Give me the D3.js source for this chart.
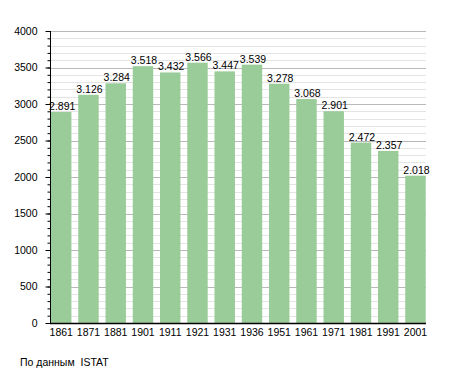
<!DOCTYPE html>
<html>
<head>
<meta charset="utf-8">
<script src="https://cdn.jsdelivr.net/npm/d3@7"></script>
<style>
  body { margin: 0; background: #fff; }
  text { font-family: "Liberation Sans", Arial, sans-serif; }
</style>
</head>
<body>
<script>
// census years and population
var years = ["1861","1871","1881","1901","1911","1921","1931","1936","1951","1961","1971","1981","1991","2001"];
var population = [2891, 3126, 3284, 3518, 3432, 3566, 3447, 3539, 3278, 3068, 2901, 2472, 2357, 2018];
var yTicks = [0, 500, 1000, 1500, 2000, 2500, 3000, 3500, 4000];
var sourceNote = "По данным  ISTAT";

var width = 455, height = 373;

var svg = d3.select("body").append("svg")
    .attr("width", width)
    .attr("height", height);

var x = d3.scaleBand()
    .domain(years)
    .range([51, 425.7])
    .paddingInner(0.25)
    .paddingOuter(0);

var y = d3.scaleLinear()
    .domain([0, 4000])
    .range([323, 31]);

var left = 50, right = 426;

// minor grid every 100
var minor = d3.range(100, 4001, 100).filter(function(v){ return v % 500 !== 0; });
svg.selectAll(".minor")
    .data(minor)
    .enter().append("line")
    .attr("x1", left).attr("x2", right)
    .attr("y1", function(d){ return Math.round(y(d)) + 0.5; })
    .attr("y2", function(d){ return Math.round(y(d)) + 0.5; })
    .attr("stroke", "#e4e4e4")
    .attr("stroke-width", 1);

// major grid
svg.selectAll(".major")
    .data(yTicks.slice(1))
    .enter().append("line")
    .attr("x1", left).attr("x2", right)
    .attr("y1", function(d){ return Math.round(y(d)) + 0.5; })
    .attr("y2", function(d){ return Math.round(y(d)) + 0.5; })
    .attr("stroke", "#b8b8b8")
    .attr("stroke-width", 1);

// bars
svg.selectAll(".bar")
    .data(population)
    .enter().append("rect")
    .attr("x", function(d, i){ return x(years[i]); })
    .attr("y", function(d){ return y(d); })
    .attr("width", x.bandwidth())
    .attr("height", function(d){ return y(0) - y(d); })
    .attr("fill", "#99cc99");

// value labels
svg.selectAll(".lbl")
    .data(population)
    .enter().append("text")
    .attr("x", function(d, i){ return x(years[i]) + x.bandwidth() / 2 + 1; })
    .attr("y", function(d){ return y(d) - 2; })
    .attr("text-anchor", "middle")
    .attr("font-size", 10.5)
    .attr("fill", "#000")
    .text(function(d){ return d3.format(",")(d).replace(",", "."); });

// y axis with minor ticks
var yAxisMinor = d3.axisLeft(y).tickValues(d3.range(0, 4001, 100)).tickSize(3).tickFormat("");
svg.append("g")
    .attr("transform", "translate(" + (left + 0.5) + ",0)")
    .call(yAxisMinor)
    .call(function(g){ g.select(".domain").remove(); });

var yAxis = d3.axisLeft(y).tickValues(yTicks).tickSize(5).tickPadding(8).tickFormat(d3.format("d"));
svg.append("g")
    .attr("transform", "translate(" + (left + 0.5) + ",0)")
    .call(yAxis)
    .call(function(g){
        g.select(".domain").attr("d", "M0," + y(4000) + "V" + y(0));
        g.selectAll("text").attr("font-size", 10.5).attr("font-family", "Liberation Sans, Arial, sans-serif");
    });

// x axis
var xAxis = d3.axisBottom(x).tickSize(0).tickPadding(5);
svg.append("g")
    .attr("transform", "translate(0," + (y(0) + 0.5) + ")")
    .call(xAxis)
    .call(function(g){
        g.select(".domain").attr("d", "M" + left + ",0H" + right).attr("stroke-width", 1.5);
        g.selectAll("text").attr("font-size", 10.5).attr("font-family", "Liberation Sans, Arial, sans-serif");
    });

// source note
svg.append("text")
    .attr("x", 20)
    .attr("y", 366)
    .attr("font-size", 10.5)
    .style("white-space", "pre")
    .text(sourceNote);
</script>
</body>
</html>
